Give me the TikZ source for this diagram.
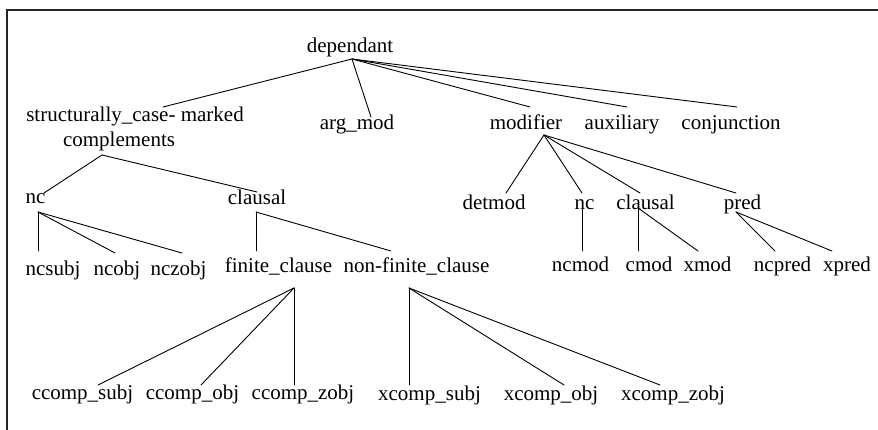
\documentclass[tikz,border=0pt]{standalone}
\usepackage{fontspec}
\setmainfont{Liberation Serif}
\newcommand\conn[4]{\draw[edge] ([shift={#2}]#1.base) -- ([shift={#4}]#3.base);}
\begin{document}
\begin{tikzpicture}[x=1pt,y=-1pt,
  lbl/.style={anchor=base, inner sep=0pt, font=\fontsize{21}{25}\selectfont},
  edge/.style={line width=0.9pt, line cap=round},
  frame/.style={line width=2pt, black!85}]
\useasboundingbox (0,0) rectangle (878,430);
\coordinate (ftl) at (6.5,10.5);
\coordinate (ftr) at (878,10.5);
\coordinate (fbl) at (6.5,430);
\draw[frame] (ftr) -- (ftl) -- (fbl);
% nodes
\node[lbl] (dep) at (350,53) {dependant};
\node[lbl] (sm) at (135,122) {structurally\_case- marked};
\node[lbl] (comp) at (119,147) {complements};
\node[lbl] (argmod) at (357,130) {arg\_mod};
\node[lbl] (modi) at (526,130) {modifier};
\node[lbl] (aux) at (622,130) {auxiliary};
\node[lbl] (conj) at (731,130) {conjunction};
\node[lbl] (nc) at (35.5,204) {nc};
\node[lbl] (cl) at (257,205) {clausal};
\node[lbl] (detmod) at (494,210) {detmod};
\node[lbl] (ncr) at (584.5,210) {nc};
\node[lbl] (clr) at (645.5,210) {clausal};
\node[lbl] (pred) at (742.5,210) {pred};
\node[lbl] (ncsubj) at (53,276) {ncsubj};
\node[lbl] (ncobj) at (117,276) {ncobj};
\node[lbl] (nczobj) at (178.5,276) {nczobj};
\node[lbl] (fin) at (278.5,273) {finite\_clause};
\node[lbl] (nfin) at (416.5,273) {non-finite\_clause};
\node[lbl] (ncmod) at (580.5,272) {ncmod};
\node[lbl] (cmod) at (649,272) {cmod};
\node[lbl] (xmod) at (707.5,272) {xmod};
\node[lbl] (ncpred) at (782.5,272) {ncpred};
\node[lbl] (xpred) at (847,272) {xpred};
\node[lbl] (ccs) at (82.5,399) {ccomp\_subj};
\node[lbl] (cco) at (192.5,399) {ccomp\_obj};
\node[lbl] (ccz) at (303,399) {ccomp\_zobj};
\node[lbl] (xcs) at (429.5,400) {xcomp\_subj};
\node[lbl] (xco) at (551,400) {xcomp\_obj};
\node[lbl] (xcz) at (673,400) {xcomp\_zobj};
% connectors
\conn{dep}{(2,6)}{sm}{(28,-15)}
\conn{dep}{(2,6)}{argmod}{(14,-13)}
\conn{dep}{(2,6)}{modi}{(4,-23)}
\conn{dep}{(2,6)}{aux}{(5,-23)}
\conn{dep}{(2,6)}{conj}{(6,-23)}
\conn{comp}{(-17,8)}{nc}{(8.5,-11)}
\conn{comp}{(-17,8)}{cl}{(0,-13)}
\conn{nc}{(2.5,8)}{ncsubj}{(-15,-25)}
\conn{nc}{(2.5,8)}{ncobj}{(-2,-23)}
\conn{nc}{(2.5,8)}{nczobj}{(3.5,-23)}
\conn{cl}{(-1,7)}{fin}{(-22.5,-22)}
\conn{cl}{(-1,7)}{nfin}{(-25.5,-22)}
\conn{modi}{(18,5)}{detmod}{(12,-17)}
\conn{modi}{(18,5)}{ncr}{(-2.5,-17)}
\conn{modi}{(18,5)}{clr}{(-5.5,-17)}
\conn{modi}{(18,5)}{pred}{(-6.5,-17)}
\conn{ncr}{(-2.5,-7)}{ncmod}{(1.5,-21)}
\conn{clr}{(-7.5,-2)}{cmod}{(-11,-21)}
\conn{clr}{(-7.5,-2)}{xmod}{(-9.5,-21)}
\conn{pred}{(-6.5,2)}{ncpred}{(-7.5,-21)}
\conn{pred}{(-6.5,2)}{xpred}{(-15,-21)}
\conn{fin}{(15.5,15)}{ccs}{(15.5,-14)}
\conn{fin}{(15.5,15)}{cco}{(8.5,-14)}
\conn{fin}{(15.5,15)}{ccz}{(-9,-14)}
\conn{nfin}{(-7.5,15)}{xcs}{(-20.5,-15)}
\conn{nfin}{(-7.5,15)}{xco}{(13,-15)}
\conn{nfin}{(-7.5,15)}{xcz}{(-13,-15)}
\end{tikzpicture}
\end{document}
